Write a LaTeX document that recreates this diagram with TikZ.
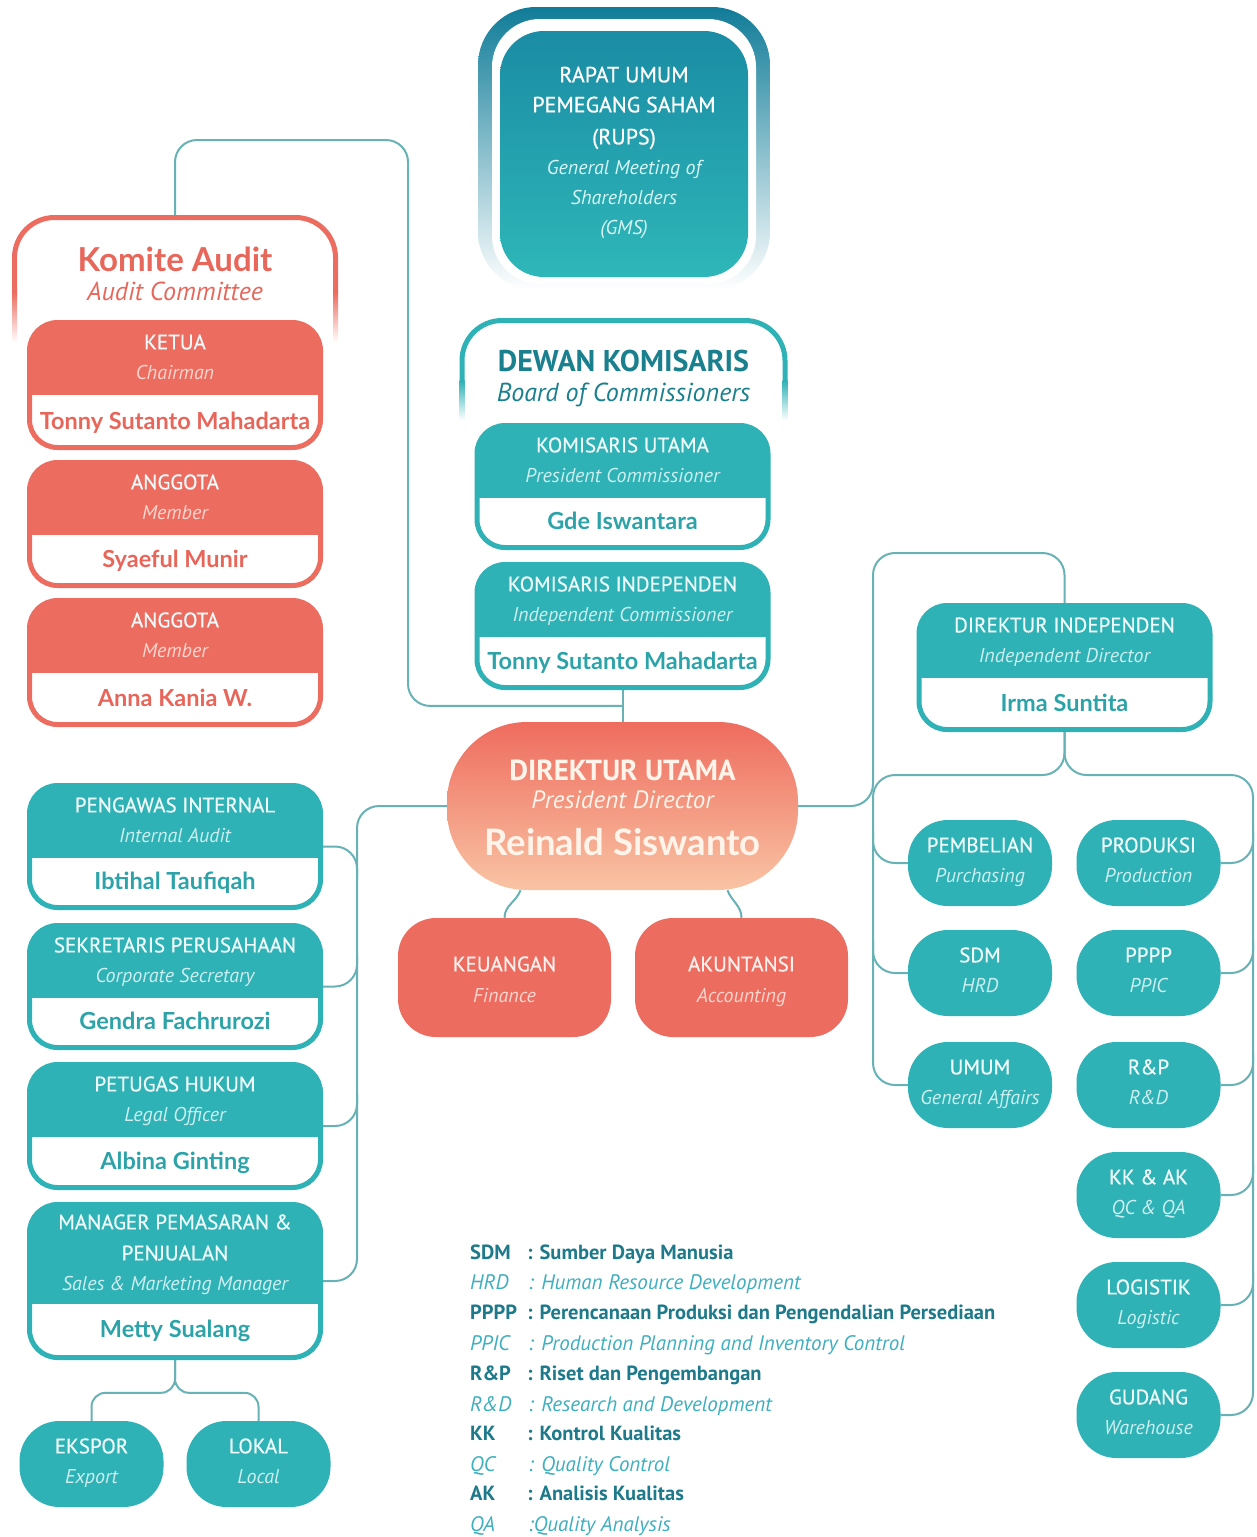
\documentclass[tikz,border=0pt]{standalone}
\usepackage{fontspec}
\setmainfont{PT Sans}
\newfontfamily\namefont{Lato}
\usepackage{tikz}
\usetikzlibrary{calc, backgrounds}
\definecolor{boxteal}{RGB}{46,178,182}
\definecolor{boxcoral}{RGB}{236,108,96}
\definecolor{nameteal}{RGB}{44,163,168}
\definecolor{namecoral}{RGB}{232,101,90}
\definecolor{lblteal}{RGB}{238,250,250}
\definecolor{lblcoral}{RGB}{253,240,236}
\definecolor{subteal}{RGB}{205,238,239}
\definecolor{subcoral}{RGB}{252,214,206}
\definecolor{titleteal}{RGB}{27,128,142}
\definecolor{titlecoral}{RGB}{232,103,91}
\definecolor{lineteal}{RGB}{104,178,182}
\definecolor{ringdark}{RGB}{16,124,152}
\definecolor{ringmid}{RGB}{84,178,192}
\definecolor{rupstop}{RGB}{26,140,164}
\definecolor{rupsbot}{RGB}{46,183,184}
\definecolor{rupssub}{RGB}{214,244,244}
\definecolor{dutop}{RGB}{238,108,94}
\definecolor{dubot}{RGB}{249,196,164}
\definecolor{dutext}{RGB}{255,244,234}
\definecolor{legdark}{RGB}{30,122,138}
\definecolor{leglight}{RGB}{62,175,190}

% card with coloured head and white name part
\newcommand{\rolecard}[8]{%
  \node[card=#5, minimum height=#4] (#1) at (#2,#3) {};
  \node[lbl] (#1-lbl) at ($(#1.north)+(0,22)$) {#6};
  \node[sub, text=sub#5] (#1-sub) at ($(#1.north)+(0,52.5)$) {#7};
  \node[nm, text=name#5] (#1-nm) at ($(#1.south)+(0,-29.5)$) {#8};}
% rounded unit box
\newcommand{\pillbox}[7]{%
  \node[pill=#4, #7] (#1) at (#2,#3) {};
  \node[lbl, text=lbl#4] (#1-lbl) at ($(#1)+(0,-18)$) {#5};
  \node[sub, text=sub#4] (#1-sub) at ($(#1)+(0,12)$) {#6};}

\begin{document}
\begin{tikzpicture}[x=1pt, y=-1pt,
  conn/.style={draw=lineteal, line width=2pt, rounded corners=22pt},
  card top/.initial=72pt,
  card/.style={draw=box#1, line width=5pt, fill=white, rounded corners=28pt, minimum width=291pt, inner sep=0pt,
    path picture={\fill[box#1, sharp corners] (path picture bounding box.north west) rectangle ([yshift=-\pgfkeysvalueof{/tikz/card top}]path picture bounding box.north east);}},
  pill/.style={fill=box#1, rounded corners=40pt, minimum width=144pt, minimum height=86pt, inner sep=0pt},
  frameline/.style={draw=#1, line width=5pt, rounded corners=40pt},
  lbl/.style={font=\fontsize{21}{21}\selectfont\addfontfeatures{FakeBold=0.6}, text=lblteal, inner sep=0pt, text height=14.7pt, text depth=0pt},
  sub/.style={font=\itshape\fontsize{20}{20}\selectfont, text=subteal, inner sep=0pt, text height=14pt, text depth=0pt},
  nm/.style={font=\namefont\bfseries\fontsize{23.5}{23.5}\selectfont, inner sep=0pt, text height=17pt, text depth=0pt},
  legb/.style={font=\bfseries\fontsize{20.5}{20.5}\selectfont, text=legdark, inner sep=0pt, text height=14.4pt, text depth=0pt, anchor=west},
  legi/.style={font=\itshape\fontsize{21}{21}\selectfont, text=leglight, inner sep=0pt, text height=14.7pt, text depth=0pt, anchor=west}]
\useasboundingbox (0,0) rectangle (1256,1537);

% RUPS
\shade[top color=ringdark, middle color=ringmid, bottom color=white, rounded corners=58pt] (478,7) rectangle (770,290);
\fill[white, rounded corners=48pt] (492,19) rectangle (756,284);
\node[top color=rupstop, bottom color=rupsbot, rounded corners=44pt, minimum width=248pt, minimum height=246pt, inner sep=0pt] (rups) at (624,154) {};
\node[lbl, font=\fontsize{22}{22}\selectfont\addfontfeatures{FakeBold=0.6}, text=white] (rups-l1) at (624,75) {RAPAT UMUM};
\node[lbl, font=\fontsize{22}{22}\selectfont\addfontfeatures{FakeBold=0.6}, text=white] (rups-l2) at (624,105) {PEMEGANG SAHAM};
\node[lbl, font=\fontsize{22}{22}\selectfont\addfontfeatures{FakeBold=0.6}, text=white] (rups-l3) at (624,137) {(RUPS)};
\node[sub, text=rupssub] (rups-s1) at (624,167) {General Meeting of};
\node[sub, text=rupssub] (rups-s2) at (624,197) {Shareholders};
\node[sub, text=rupssub] (rups-s3) at (624,227) {(GMS)};

% Komite Audit
\node[minimum width=321pt, minimum height=125pt, inner sep=0pt, outer sep=0pt] (kafr) at (175,280) {};
\draw[frameline=boxcoral] ([yshift=50pt]kafr.south west) |- (kafr.north) -| ([yshift=50pt]kafr.south east);
\shade[top color=boxcoral, bottom color=white] ([xshift=-2.5pt,yshift=50pt]kafr.south west) rectangle ([xshift=2.5pt]kafr.south west);
\shade[top color=boxcoral, bottom color=white] ([xshift=-2.5pt,yshift=50pt]kafr.south east) rectangle ([xshift=2.5pt]kafr.south east);
\node[inner sep=0pt, text height=23pt, text depth=0pt, font=\namefont\bfseries\fontsize{33}{33}\selectfont, text=titlecoral] (ka-t) at (175,260) {Komite Audit};
\node[sub, font=\itshape\fontsize{26}{26}\selectfont, text height=18pt, text=titlecoral] (ka-s) at (175,291) {Audit Committee};
\rolecard{ketua}{175}{385}{125pt}{coral}{KETUA}{Chairman}{Tonny Sutanto Mahadarta}
\rolecard{agt1}{175}{524}{123pt}{coral}{ANGGOTA}{Member}{Syaeful Munir}
\rolecard{agt2}{175}{662.5}{124pt}{coral}{ANGGOTA}{Member}{Anna Kania W.}

% Dewan Komisaris
\node[minimum width=323pt, minimum height=105pt, inner sep=0pt, outer sep=0pt] (dkfr) at (623.5,373) {};
\draw[frameline=boxteal] ([yshift=45pt]dkfr.south west) |- (dkfr.north) -| ([yshift=45pt]dkfr.south east);
\shade[top color=boxteal, bottom color=white] ([xshift=-2.5pt,yshift=45pt]dkfr.south west) rectangle ([xshift=2.5pt,yshift=5pt]dkfr.south west);
\shade[top color=boxteal, bottom color=white] ([xshift=-2.5pt,yshift=45pt]dkfr.south east) rectangle ([xshift=2.5pt,yshift=5pt]dkfr.south east);
\node[inner sep=0pt, text height=21pt, text depth=0pt, font=\bfseries\fontsize{30}{30}\selectfont, text=titleteal] (dk-t) at (623.5,361) {DEWAN KOMISARIS};
\node[sub, font=\itshape\fontsize{26}{26}\selectfont, text height=18pt, text=titleteal] (dk-s) at (623.5,392) {Board of Commissioners};
\rolecard{ku}{622.5}{486.5}{122pt}{teal}{KOMISARIS UTAMA}{President Commissioner}{Gde Iswantara}
\rolecard{ki}{622.5}{626}{123pt}{teal}{KOMISARIS INDEPENDEN}{Independent Commissioner}{Tonny Sutanto Mahadarta}

% Direksi
\node[top color=dutop, bottom color=dubot, rounded corners=80pt, minimum width=351pt, minimum height=168pt, inner sep=0pt] (du) at (622.5,806) {};
\node[inner sep=0pt, text height=20pt, text depth=0pt, font=\bfseries\fontsize{29}{29}\selectfont, text=dutext] (du-lbl) at (622.5,770) {DIREKTUR UTAMA};
\node[inner sep=0pt, text height=17pt, text depth=0pt, font=\itshape\fontsize{25}{25}\selectfont, text=dutext] (du-sub) at (622.5,800) {President Director};
\node[inner sep=0pt, text height=26pt, text depth=0pt, font=\namefont\bfseries\fontsize{36.5}{36.5}\selectfont, text=dutext] (du-nm) at (622.5,842) {Reinald Siswanto};
\node[pill=coral, minimum width=213pt, minimum height=119pt, rounded corners=38pt] (keu) at (504.5,977.5) {};
\node[lbl, text=lblcoral] (keu-lbl) at (504.5,964) {KEUANGAN};
\node[sub, text=subcoral] (keu-sub) at (504.5,995) {Finance};
\node[pill=coral, minimum width=213pt, minimum height=119pt, rounded corners=38pt] (aku) at (741.5,977.5) {};
\node[lbl, text=lblcoral] (aku-lbl) at (741.5,964) {AKUNTANSI};
\node[sub, text=subcoral] (aku-sub) at (741.5,995) {Accounting};

\rolecard{di}{1064.5}{667.5}{124pt}{teal}{DIREKTUR INDEPENDEN}{Independent Director}{Irma Suntita}
\pillbox{pemb}{980}{863}{teal}{PEMBELIAN}{Purchasing}{}
\pillbox{sdm}{980}{973}{teal}{SDM}{HRD}{}
\pillbox{umum}{980}{1085}{teal}{UMUM}{General Affairs}{}
\pillbox{prod}{1148.5}{863}{teal}{PRODUKSI}{Production}{}
\pillbox{pppp}{1148.5}{973}{teal}{PPPP}{PPIC}{}
\pillbox{rp}{1148.5}{1085}{teal}{R\&P}{R\&D}{}
\pillbox{kk}{1148.5}{1195}{teal}{KK \& AK}{QC \& QA}{}
\pillbox{log}{1148.5}{1305}{teal}{LOGISTIK}{Logistic}{}
\pillbox{gud}{1148.5}{1415}{teal}{GUDANG}{Warehouse}{}

% left staff
\rolecard{pwi}{175}{846.5}{122pt}{teal}{PENGAWAS INTERNAL}{Internal Audit}{Ibtihal Taufiqah}
\rolecard{sk}{175}{986.5}{122pt}{teal}{SEKRETARIS PERUSAHAAN}{Corporate Secretary}{Gendra Fachrurozi}
\rolecard{ph}{175}{1126}{123pt}{teal}{PETUGAS HUKUM}{Legal Officer}{Albina Ginting}
\node[card=teal, card top=99pt, minimum height=153pt] (mgr) at (175,1281) {};
\node[lbl] (mgr-l1) at (175,1222) {MANAGER PEMASARAN \&};
\node[lbl] (mgr-l2) at (175,1253) {PENJUALAN};
\node[sub] (mgr-sub) at (175,1283) {Sales \& Marketing Manager};
\node[nm, text=nameteal] (mgr-nm) at (175,1329) {Metty Sualang};
\pillbox{eks}{91.5}{1464}{teal}{EKSPOR}{Export}{}
\pillbox{lok}{258.5}{1464}{teal}{LOKAL}{Local}{}

% legend
\foreach \ab/\tx/\yy [count=\i] in {SDM/{: Sumber Daya Manusia}/1252, PPPP/{: Perencanaan Produksi dan Pengendalian Persediaan}/1312, R\&P/{: Riset dan Pengembangan}/1373, KK/{: Kontrol Kualitas}/1433, AK/{: Analisis Kualitas}/1493}{
  \node[legb] (lgab\i) at (470,\yy) {\ab};
  \node[legb] (lgtx\i) at (527,\yy) {\tx};}
\foreach \ab/\tx/\yy [count=\i] in {HRD/{: Human Resource Development}/1282, PPIC/{: Production Planning and Inventory Control}/1343, R\&D/{: Research and Development}/1404, QC/{: Quality Control}/1464, QA/{:Quality Analysis}/1524}{
  \node[legi] (lgiab\i) at (470,\yy) {\ab};
  \node[legi] (lgitx\i) at (528,\yy) {\tx};}

% connectors
\begin{scope}[on background layer]
  \fill[white] (0,0) rectangle (1256,1537);
  \coordinate (tbus) at (408,140);
  \coordinate (tjoin) at ($(ki.south)!0.5!(du.north)$);
  \coordinate (lbus) at (357,806);
  \coordinate (ubus) at (873,553);
  \coordinate (lbx) at (873,775);
  \coordinate (rbx) at (1253,775);
  \draw[conn] (kafr.north) |- (tbus) |- (tjoin);
  \draw[conn] (ki.south) -- (du.north);
  \draw[conn] (du.west) -| (mgr.east -| lbus) -- (mgr.east);
  \draw[conn] (pwi.east) -| ($(pwi.east -| lbus)+(0,32)$);
  \draw[conn] (sk.east) -| ($(sk.east -| lbus)+(0,-32)$);
  \draw[conn] (ph.east) -| ($(ph.east -| lbus)+(0,-32)$);
  \draw[conn, rounded corners=14pt] (mgr.south) |- ($(eks.north)+(0,-28)$) -- (eks.north);
  \draw[conn, rounded corners=14pt] (mgr.south) |- ($(lok.north)+(0,-28)$) -- (lok.north);
  \draw[conn] ([xshift=-102pt]du.south) to[out=-110, in=90] (keu.north);
  \draw[conn] ([xshift=105pt]du.south) to[out=-70, in=90] (aku.north);
  \draw[conn] (du.east) -| (ubus) -| (di.north);
  \draw[conn] (di.south) |- (lbx) |- (umum.west);
  \draw[conn] (di.south) |- (rbx) |- (gud.east);
  \draw[conn] (pemb.west) -| ($(pemb.west -| lbx)+(0,-32)$);
  \draw[conn] (sdm.west) -| ($(sdm.west -| lbx)+(0,-32)$);
  \foreach \p in {prod, pppp, rp, kk, log}
    \draw[conn] (\p.east) -| ($(\p.east -| rbx)+(0,-32)$);
\end{scope}
\end{tikzpicture}
\end{document}
